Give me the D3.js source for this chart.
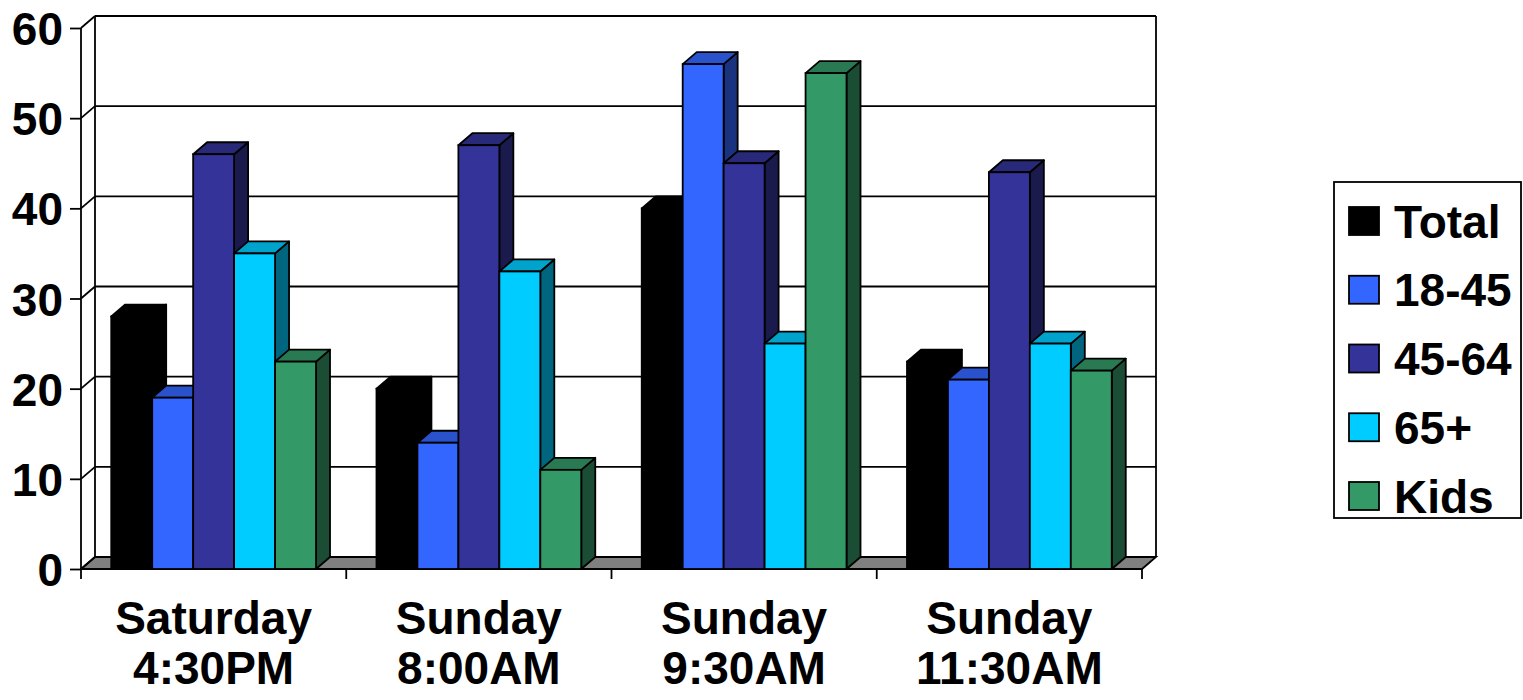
<!DOCTYPE html>
<html>
<head>
<meta charset="utf-8">
<script src="https://cdn.jsdelivr.net/npm/d3@7"></script>
<style>
  html, body { margin: 0; padding: 0; background: #ffffff; }
  svg { display: block; }
  text { font-family: "Liberation Sans", Arial, sans-serif; font-weight: bold; fill: #000; }
</style>
</head>
<body>
<svg id="chart" width="1523" height="700"></svg>
<script>
// ---- data ----
const categories = [["Saturday", "4:30PM"], ["Sunday", "8:00AM"], ["Sunday", "9:30AM"], ["Sunday", "11:30AM"]];
const seriesNames = ["Total", "18-45", "45-64", "65+", "Kids"];
const seriesColors = ["#000000", "#3366FF", "#333399", "#00CCFF", "#339966"];
const totalValues = [28, 20, 40, 23];
const age18to45Values = [19, 14, 56, 21];
const age45to64Values = [46, 47, 45, 44];
const age65plusValues = [35, 33, 25, 25];
const kidsValues = [23, 11, 55, 22];
const yTicks = [0, 10, 20, 30, 40, 50, 60];

const seriesValues = [totalValues, age18to45Values, age45to64Values, age65plusValues, kidsValues];

(function () {
// ---- layout ----
const svg = d3.select("#chart");
const pLeft = 81, pRight = 1142, pBottom = 569, pTop = 28;
const DX = 14, DY = 12; // 3D depth offset
const SW = 1.8;
const FS = "46px";

const y = d3.scaleLinear().domain([0, 60]).range([pBottom, pTop]);
const xCat = d3.scaleBand().domain(d3.range(categories.length)).range([pLeft, pRight])
  .paddingInner(0.228).paddingOuter(0.114);
const xSer = d3.scaleBand().domain(d3.range(seriesNames.length)).range([0, xCat.bandwidth()]).padding(0);

function shade(c, k) {
  const r = d3.rgb(c);
  return d3.rgb(r.r * k, r.g * k, r.b * k).formatHex();
}

// floor
svg.append("polygon")
  .attr("points", [[pLeft, pBottom], [pRight, pBottom], [pRight + DX, pBottom - DY], [pLeft + DX, pBottom - DY]].map(p => p.join(",")).join(" "))
  .attr("fill", "#808080").attr("stroke", "#000").attr("stroke-width", SW);

// back wall gridlines and left wall diagonals
const grid = svg.append("g");
yTicks.forEach(v => {
  if (v > 0) {
    grid.append("line").attr("x1", pLeft + DX).attr("x2", pRight + DX)
      .attr("y1", y(v) - DY).attr("y2", y(v) - DY)
      .attr("stroke", "#000").attr("stroke-width", SW);
  }
  grid.append("line").attr("x1", pLeft).attr("x2", pLeft + DX)
    .attr("y1", y(v)).attr("y2", y(v) - DY)
    .attr("stroke", "#000").attr("stroke-width", SW);
});
// wall edges
grid.append("line").attr("x1", pLeft + DX).attr("x2", pLeft + DX).attr("y1", y(60) - DY).attr("y2", pBottom - DY).attr("stroke", "#000").attr("stroke-width", SW);
grid.append("line").attr("x1", pRight + DX).attr("x2", pRight + DX).attr("y1", y(60) - DY).attr("y2", pBottom - DY).attr("stroke", "#000").attr("stroke-width", SW);

// y axis
const yAxis = d3.axisLeft(y).tickValues(yTicks).tickSize(11).tickPadding(7).tickFormat(d3.format("d"));
const yg = svg.append("g").attr("transform", `translate(${pLeft},0)`).call(yAxis);
yg.select(".domain").attr("stroke", "#000").attr("stroke-width", SW).attr("d", `M0,${pTop}V${pBottom}`);
yg.selectAll(".tick line").attr("stroke", "#000").attr("stroke-width", SW);
yg.selectAll(".tick text").style("font-size", FS).style("font-family", "Liberation Sans, Arial, sans-serif")
  .style("font-weight", "bold").attr("fill", "#000").attr("dy", "0.36em");

// x axis (category ticks at boundaries)
const bounds = d3.range(categories.length + 1).map(i => pLeft + i * xCat.step());
svg.append("g").selectAll("line").data(bounds).join("line")
  .attr("x1", d => d).attr("x2", d => d).attr("y1", pBottom).attr("y2", pBottom + 10)
  .attr("stroke", "#000").attr("stroke-width", SW);
svg.append("line").attr("x1", pLeft).attr("x2", pRight).attr("y1", pBottom).attr("y2", pBottom)
  .attr("stroke", "#000").attr("stroke-width", SW);

const xl = svg.append("g");
categories.forEach((lines, i) => {
  const cx = pLeft + xCat.step() * (i + 0.5);
  const t = xl.append("text").attr("text-anchor", "middle").style("font-size", FS);
  t.append("tspan").attr("x", cx).attr("y", 634).text(lines[0]);
  t.append("tspan").attr("x", cx).attr("y", 684).text(lines[1]);
});

// bars
const barsG = svg.append("g");
categories.forEach((c, i) => {
  seriesNames.forEach((s, j) => {
    const v = seriesValues[j][i];
    const x0 = xCat(i) + xSer(j), x1 = x0 + xSer.bandwidth();
    const yT = y(v), y0 = y(0);
    const col = seriesColors[j];
    const g = barsG.append("g");
    g.append("polygon")
      .attr("points", [[x1, yT], [x1 + DX, yT - DY], [x1 + DX, y0 - DY], [x1, y0]].map(p => p.join(",")).join(" "))
      .attr("fill", shade(col, 0.5)).attr("stroke", "#000").attr("stroke-width", SW).attr("stroke-linejoin", "round");
    g.append("polygon")
      .attr("points", [[x0, yT], [x0 + DX, yT - DY], [x1 + DX, yT - DY], [x1, yT]].map(p => p.join(",")).join(" "))
      .attr("fill", shade(col, 0.8)).attr("stroke", "#000").attr("stroke-width", SW).attr("stroke-linejoin", "round");
    g.append("rect").attr("x", x0).attr("y", yT).attr("width", x1 - x0).attr("height", y0 - yT)
      .attr("fill", col).attr("stroke", "#000").attr("stroke-width", SW);
  });
});

// legend
const lg = svg.append("g");
lg.append("rect").attr("x", 1334).attr("y", 182).attr("width", 187).attr("height", 336)
  .attr("fill", "#fff").attr("stroke", "#000").attr("stroke-width", SW);
seriesNames.forEach((s, j) => {
  const cy = 221 + j * 68.75;
  lg.append("rect").attr("x", 1349).attr("y", cy - 14).attr("width", 30).attr("height", 28)
    .attr("fill", seriesColors[j]).attr("stroke", "#000").attr("stroke-width", SW);
  lg.append("text").attr("x", 1394).attr("y", cy).attr("dy", "0.36em").style("font-size", FS).text(s);
});
})();
</script>
</body>
</html>
